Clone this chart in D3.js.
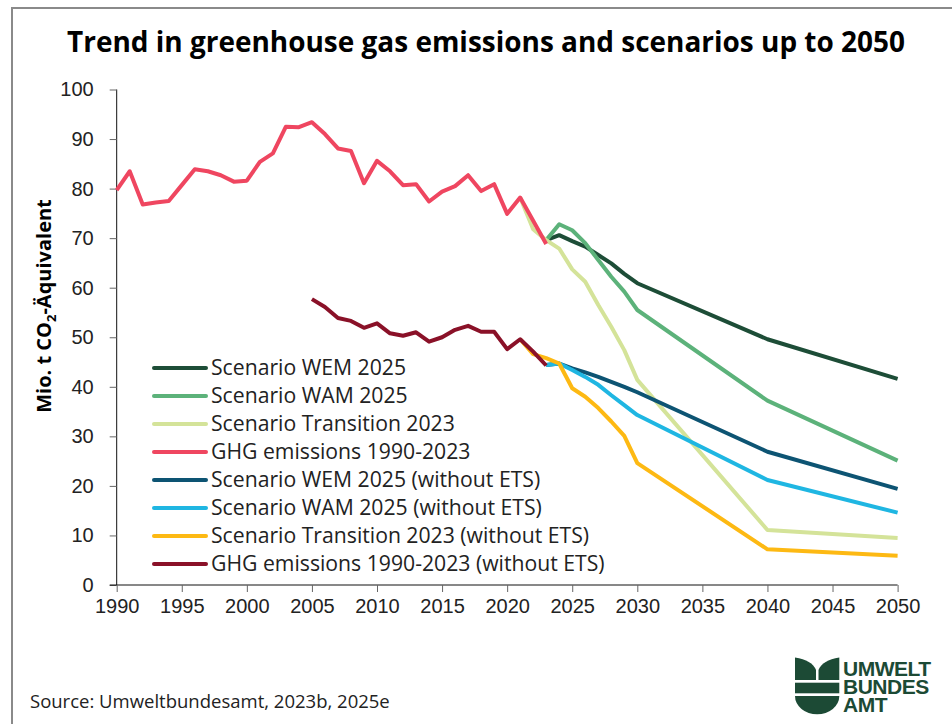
<!DOCTYPE html>
<html>
<head>
<meta charset="utf-8">
<title>Trend in greenhouse gas emissions</title>
<script src="https://d3js.org/d3.v7.min.js"></script>
<style>
body { margin: 0; background: #fff; }
svg { font-family: "Open Sans", sans-serif; }
.tick text { font-size: 20px; fill: #222; }
.tick line { stroke: #666; }
.domain { stroke: #111; }
</style>
</head>
<body>
<svg width="952" height="724"></svg>
<script>
// years
var histYears = [1990,1991,1992,1993,1994,1995,1996,1997,1998,1999,2000,2001,2002,2003,2004,2005,2006,2007,2008,2009,2010,2011,2012,2013,2014,2015,2016,2017,2018,2019,2020,2021,2022,2023];
var noEtsYears = [2005,2006,2007,2008,2009,2010,2011,2012,2013,2014,2015,2016,2017,2018,2019,2020,2021,2022,2023];
var scenYears = [2023,2024,2025,2026,2027,2028,2029,2030,2040,2050];
var transYears = [2021,2022,2023,2024,2025,2026,2027,2028,2029,2030,2040,2050];

// values, Mio. t CO2-eq
var ghg = [79.7,83.5,76.8,77.2,77.5,80.7,83.9,83.5,82.7,81.4,81.6,85.4,87.1,92.5,92.4,93.4,91.0,88.1,87.6,81.1,85.6,83.5,80.7,80.9,77.4,79.4,80.5,82.7,79.5,80.9,74.9,78.2,73.5,68.8];
var ghgNoEts = [57.7,56.1,53.9,53.3,51.9,52.8,50.8,50.3,51.0,49.1,50.0,51.5,52.3,51.1,51.1,47.6,49.6,47.1,44.3];
var wem = [69.6,70.6,69.4,68.3,66.6,64.9,62.8,60.9,49.6,41.6];
var wam = [69.6,72.8,71.6,69.0,65.6,62.2,59.2,55.5,37.2,25.1];
var transition = [78.2,71.8,69.6,67.9,63.7,61.2,56.5,52.1,47.4,41.4,11.1,9.5];
var wemNoEts = [44.4,44.7,43.7,42.9,42.0,41.0,40.0,38.9,26.9,19.4];
var wamNoEts = [44.4,44.7,43.4,42.0,40.4,38.3,36.3,34.3,21.2,14.6];
var transNoEts = [49.6,46.6,45.8,44.7,39.7,38.0,35.7,33.0,30.1,24.6,7.2,5.9];

var seriesNames = ["Scenario WEM 2025","Scenario WAM 2025","Scenario Transition 2023","GHG emissions 1990-2023",
  "Scenario WEM 2025 (without ETS)","Scenario WAM 2025 (without ETS)","Scenario Transition 2023 (without ETS)","GHG emissions 1990-2023 (without ETS)"];
var seriesColors = ["#1d4d37","#5cb27a","#d4e399","#ef4660","#0d5473","#1fb6e2","#fdb913","#8a1128"];
var seriesYears = [scenYears, scenYears, transYears, histYears, scenYears, scenYears, transYears, noEtsYears];
var seriesValues = [wem, wam, transition, ghg, wemNoEts, wamNoEts, transNoEts, ghgNoEts];

var xTicks = d3.range(1990, 2051, 5);
var yTicks = d3.range(0, 101, 10);

var svg = d3.select("svg");

// outer frame
svg.append("path")
    .attr("d", "M12,724 L12,8 L952,8")
    .attr("fill", "none")
    .attr("stroke", "#8a8a8a")
    .attr("stroke-width", 2);

var x = d3.scaleLinear().domain([1990, 2050]).range([116.7, 897.6]);
var y = d3.scaleLinear().domain([0, 100]).range([585, 89.5]);

svg.append("text")
    .attr("x", 486).attr("y", 52)
    .attr("text-anchor", "middle")
    .attr("font-size", 28).attr("font-weight", "bold")
    .attr("textLength", 838).attr("lengthAdjust", "spacingAndGlyphs")
    .text("Trend in greenhouse gas emissions and scenarios up to 2050");

var gy = svg.append("g")
    .attr("transform", "translate(116.7,0)")
    .call(d3.axisLeft(y).tickValues(yTicks).tickSize(7).tickPadding(16));
gy.select(".domain").attr("d", "M0,89.5V585");

var gx = svg.append("g")
    .attr("transform", "translate(0,585)")
    .call(d3.axisBottom(x).tickValues(xTicks).tickFormat(d3.format("d")).tickSize(7).tickPadding(7));
gx.select(".domain").attr("d", "M109.7,0H897.6");

var yl = svg.append("text")
    .attr("transform", "translate(51,306) rotate(-90)")
    .attr("text-anchor", "middle")
    .attr("font-size", 20).attr("font-weight", "bold");
yl.append("tspan").text("Mio. t CO");
yl.append("tspan").attr("font-size", 13).attr("dy", 5).text("2");
yl.append("tspan").attr("dy", -5).text("-Äquivalent");

var line = d3.line()
    .x(function(d) { return x(d[0]); })
    .y(function(d) { return y(d[1]); });

seriesNames.forEach(function(name, i) {
  var pts = seriesYears[i].map(function(yr, j) { return [yr, seriesValues[i][j]]; });
  svg.append("path")
      .datum(pts)
      .attr("fill", "none")
      .attr("stroke", seriesColors[i])
      .attr("stroke-width", 4)
      .attr("stroke-linejoin", "round")
      .attr("d", line);
});

// legend
var leg = svg.append("g");
seriesNames.forEach(function(name, i) {
  var ly = 368 + i * 28;
  leg.append("line")
      .attr("x1", 154).attr("x2", 206)
      .attr("y1", ly).attr("y2", ly)
      .attr("stroke", seriesColors[i])
      .attr("stroke-width", 4)
      .attr("stroke-linecap", "round");
  leg.append("text")
      .attr("x", 211).attr("y", ly)
      .attr("dy", "0.35em")
      .attr("font-size", 21.2)
      .attr("fill", "#222")
      .text(name);
});

svg.append("text")
    .attr("x", 30).attr("y", 708)
    .attr("font-size", 18.5)
    .attr("fill", "#222")
    .text("Source: Umweltbundesamt, 2023b, 2025e");

// logo
var logo = svg.append("g").attr("fill", "#1c4a35");
logo.append("path").attr("d", "M795,657.5 Q812,660 816,670 L816,680 L795,680 Z");
logo.append("path").attr("d", "M839.3,657.5 Q822.5,660 818.5,670 L818.5,680 L839.3,680 Z");
logo.append("rect").attr("x", 795).attr("y", 682.7).attr("width", 44.3).attr("height", 10.6);
logo.append("path").attr("d", "M795,696 L839.3,696 A22.15,18.3 0 0 1 795,696 Z");
["UMWELT", "BUNDES", "AMT"].forEach(function(t, i) {
  logo.append("text")
      .attr("x", 843).attr("y", 676 + i * 18)
      .attr("font-family", "Liberation Sans, Arial, sans-serif")
      .attr("font-weight", "bold")
      .attr("font-size", 21)
      .attr("letter-spacing", -0.5)
      .text(t);
});
</script>
</body>
</html>
